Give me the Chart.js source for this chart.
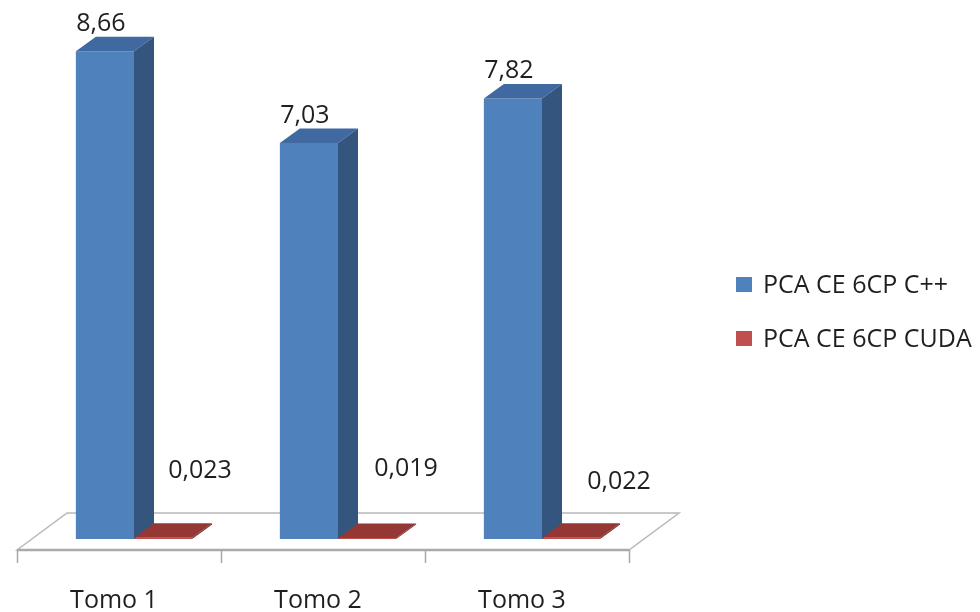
<!DOCTYPE html>
<html>
<head>
<meta charset="utf-8">
<script src="https://cdn.jsdelivr.net/npm/chart.js@4/dist/chart.umd.min.js"></script>
<style>
  html, body { margin: 0; padding: 0; background: #ffffff; }
  #wrap { width: 980px; height: 612px; }
</style>
</head>
<body>
<div id="wrap"><canvas id="chart" width="980" height="612"></canvas></div>
<script>
// Processing time per volume, C++ vs CUDA implementation
const categories = ['Tomo 1', 'Tomo 2', 'Tomo 3'];
const seriesNames = ['PCA CE 6CP C++', 'PCA CE 6CP CUDA'];
const cppTimes = [8.66, 7.03, 7.82];
const cudaTimes = [0.023, 0.019, 0.022];

const FONT = '"Open Sans", "Liberation Sans", sans-serif';
const TEXT = '#1f1f1f';

// Face colours for each series: front, top, side
const faces = [
  { front: '#4F81BD', top: '#3F69A0', side: '#33557E' },
  { front: '#C0504D', top: '#953735', side: '#7A2C2A' }
];

// Depth vector of a bar and of the floor (front / back edges relative to the bar plane)
const BAR_DEPTH = { dx: 20, dy: -14.5 };
const FLOOR = { front: { dx: -15, dy: 11 }, back: { dx: 35, dy: -26 } };

const fmt = v => String(v).replace('.', ',');

const bars3d = {
  id: 'bars3d',
  beforeDatasetsDraw(chart) {
    const { ctx, chartArea: a, scales: { x, y } } = chart;
    const base = y.getPixelForValue(0);
    const fl = a.left + FLOOR.front.dx, fr = a.right + FLOOR.front.dx, fy = base + FLOOR.front.dy;
    const bl = a.left + FLOOR.back.dx, br = a.right + FLOOR.back.dx, by = base + FLOOR.back.dy;
    ctx.save();
    // floor plane
    ctx.beginPath();
    ctx.moveTo(fl, fy); ctx.lineTo(bl, by); ctx.lineTo(br, by); ctx.lineTo(fr, fy); ctx.closePath();
    ctx.fillStyle = '#ffffff';
    ctx.fill();
    ctx.strokeStyle = '#b8b8b8';
    ctx.lineWidth = 1.5;
    ctx.stroke();
    // front edge and category ticks
    ctx.beginPath();
    ctx.moveTo(fl, fy); ctx.lineTo(fr, fy);
    ctx.strokeStyle = '#aaaaaa';
    ctx.lineWidth = 2.5;
    ctx.stroke();
    const step = (a.right - a.left) / categories.length;
    ctx.beginPath();
    for (let i = 0; i <= categories.length; i++) {
      const tx = Math.round(fl + i * step) + 0.5;
      ctx.moveTo(tx, fy); ctx.lineTo(tx, fy + 13);
    }
    ctx.strokeStyle = '#a8a8a8';
    ctx.lineWidth = 1.5;
    ctx.stroke();
    // category labels
    ctx.fillStyle = TEXT;
    ctx.font = '25px ' + FONT;
    ctx.textAlign = 'center';
    ctx.textBaseline = 'alphabetic';
    categories.forEach((c, i) => {
      ctx.fillText(c, x.getPixelForValue(i) + FLOOR.front.dx - 5, 608);
    });
    ctx.restore();
  },
  afterDatasetsDraw(chart, args, opts) {
    const { ctx } = chart;
    const { dx, dy } = BAR_DEPTH;
    ctx.save();
    chart.data.datasets.forEach((ds, di) => {
      const meta = chart.getDatasetMeta(di);
      const f = faces[di];
      meta.data.forEach(bar => {
        const { x, y, base, width } = bar.getProps(['x', 'y', 'base', 'width'], true);
        const l = x - width / 2, r = x + width / 2;
        // top face
        ctx.beginPath();
        ctx.moveTo(l, y); ctx.lineTo(l + dx, y + dy); ctx.lineTo(r + dx, y + dy); ctx.lineTo(r, y); ctx.closePath();
        ctx.fillStyle = f.top; ctx.fill();
        // side face
        ctx.beginPath();
        ctx.moveTo(r, y); ctx.lineTo(r + dx, y + dy); ctx.lineTo(r + dx, base + dy); ctx.lineTo(r, base); ctx.closePath();
        ctx.fillStyle = f.side; ctx.fill();
      });
    });
    // value labels
    ctx.fillStyle = TEXT;
    ctx.font = '25px ' + FONT;
    ctx.textAlign = 'center';
    ctx.textBaseline = 'alphabetic';
    chart.getDatasetMeta(0).data.forEach((bar, i) => {
      ctx.fillText(fmt(cppTimes[i]), bar.x - 4, bar.y - 20);
    });
    chart.getDatasetMeta(1).data.forEach((bar, i) => {
      const n = opts.smallLabelNudge[i];
      ctx.fillText(fmt(cudaTimes[i]), bar.x + n[0], bar.base + n[1]);
    });
    ctx.restore();
  },
  afterDraw(chart) {
    const { ctx } = chart;
    ctx.save();
    ctx.font = '25px ' + FONT;
    ctx.textAlign = 'left';
    ctx.textBaseline = 'alphabetic';
    chart.data.datasets.forEach((ds, i) => {
      const top = 277 + i * 54;
      ctx.fillStyle = faces[i].front;
      ctx.fillRect(736, top, 16, 15);
      ctx.fillStyle = TEXT;
      ctx.fillText(ds.label, 763, top + 16);
    });
    ctx.restore();
  }
};

new Chart(document.getElementById('chart'), {
  type: 'bar',
  data: {
    labels: categories,
    datasets: [
      { label: seriesNames[0], data: cppTimes, backgroundColor: faces[0].front },
      { label: seriesNames[1], data: cudaTimes, backgroundColor: faces[1].front }
    ]
  },
  options: {
    responsive: false,
    devicePixelRatio: 1,
    animation: false,
    layout: { padding: { left: 32, right: 336, top: 32, bottom: 73 } },
    datasets: { bar: { barPercentage: 1, categoryPercentage: 0.57, borderWidth: 0 } },
    scales: {
      x: { display: false, offset: true, grid: { display: false } },
      y: { display: false, min: 0, max: 9 }
    },
    plugins: {
      legend: { display: false },
      tooltip: { enabled: false },
      bars3d: { smallLabelNudge: [[37, -61], [39, -63], [48, -50]] }
    }
  },
  plugins: [bars3d]
});
</script>
</body>
</html>
